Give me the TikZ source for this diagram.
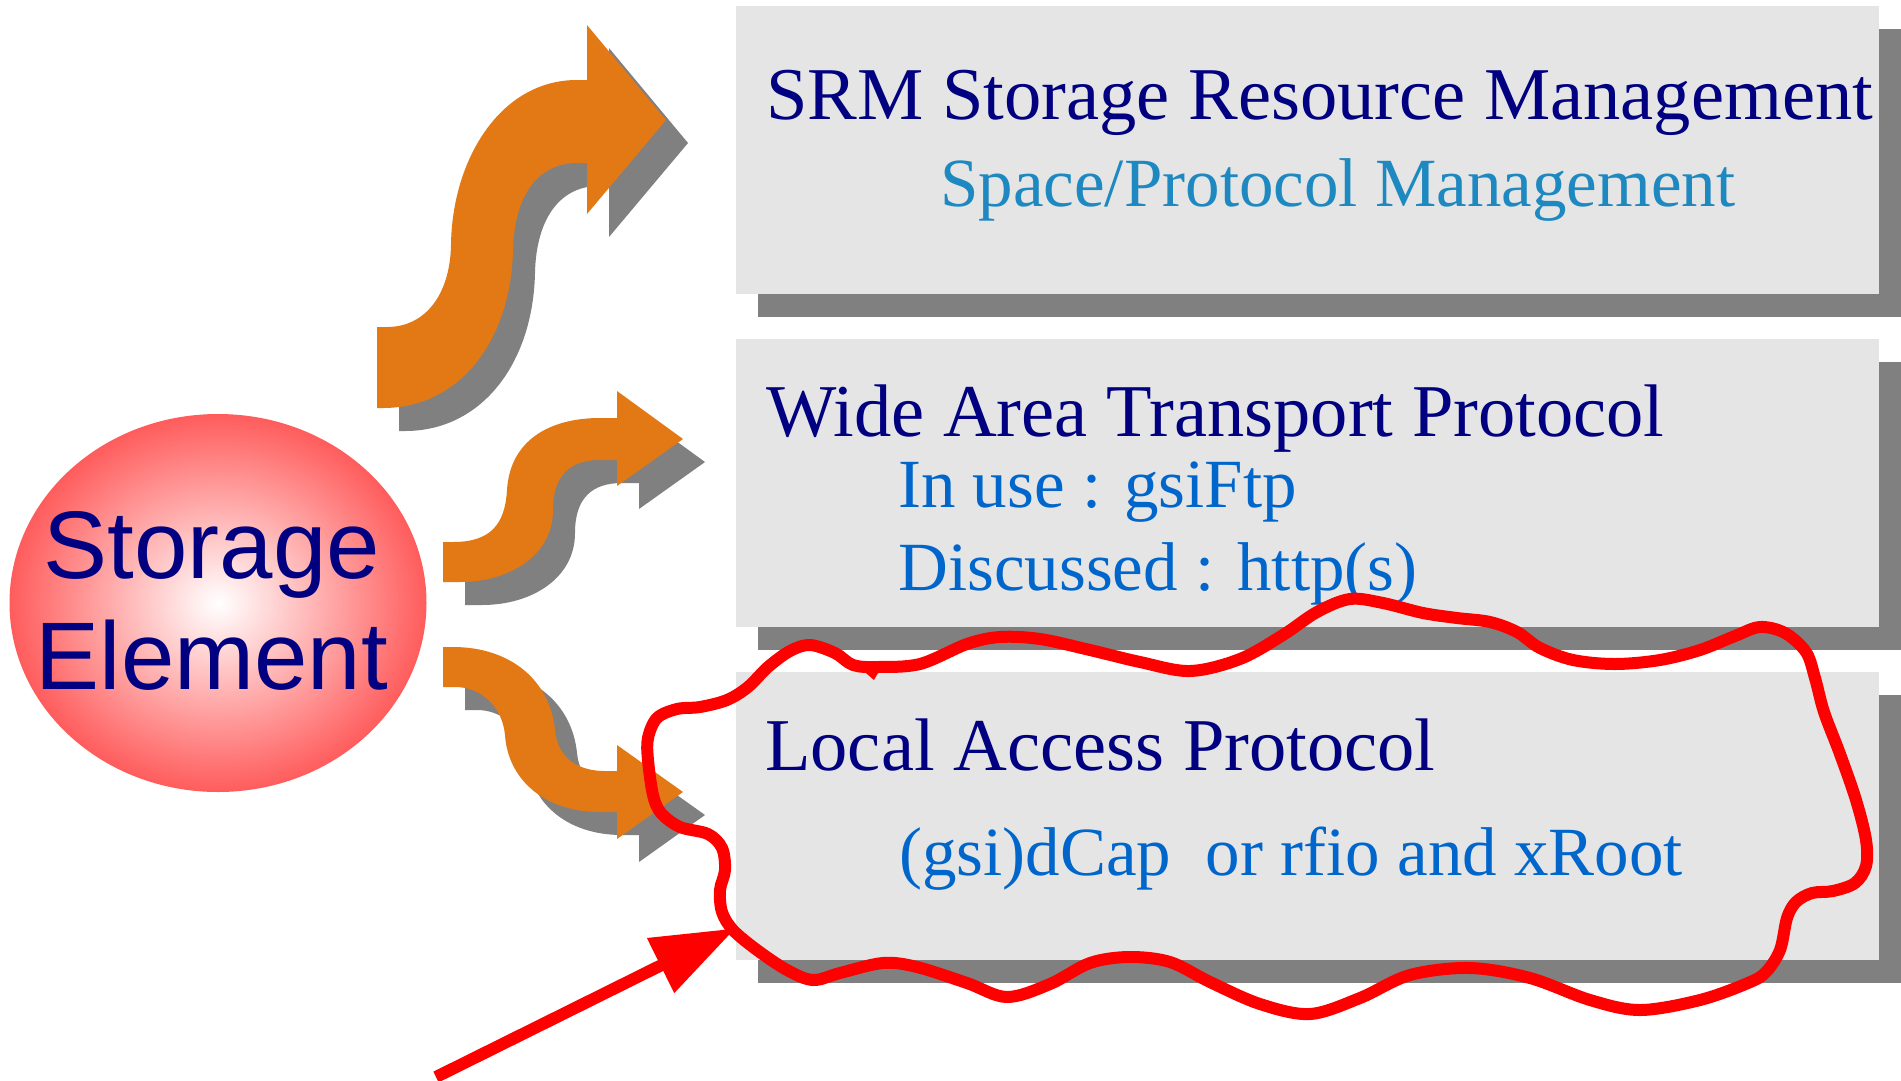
\documentclass[tikz,border=0pt]{standalone}
\usepackage{fontspec}
\setmainfont{Liberation Serif}
\newfontfamily\elementfont{Liberation Sans}
\usetikzlibrary{shapes.geometric,shadows,arrows.meta}

\definecolor{boxgray}{RGB}{229,229,229}
\definecolor{shadowgray}{RGB}{128,128,128}
\definecolor{navytext}{RGB}{0,0,128}
\definecolor{subblue}{RGB}{0,102,204}
\definecolor{tealblue}{RGB}{30,136,192}
\definecolor{arroworange}{RGB}{227,121,21}
\definecolor{sered}{RGB}{255,92,92}
\definecolor{penred}{RGB}{255,0,0}

% pink ball: white centre fading to red at the rim (rim sits at 25bp)
\pgfdeclareradialshading{seball}{\pgfpoint{0bp}{0bp}}{color(0bp)=(white); color(25bp)=(sered); color(50bp)=(sered)}

% outlines of the three bent arrows
\newcommand\sarrowTop{(377,327) -- (387,327) .. controls (425,327) and (450,295) .. (451,245) .. controls (452,160) and (500,80) .. (577,80) -- (587,80) -- (587,25) -- (666,120) -- (587,214) -- (587,163) -- (577,163) .. controls (535,163) and (514,200) .. (513,250) .. controls (511,340) and (460,408) .. (383,408) -- (377,408) -- cycle}
\newcommand\sarrowMid{(443,542) -- (453,542) .. controls (490,542) and (505,525) .. (507,490) .. controls (510,440) and (550,418) .. (600,418) -- (617,418) -- (617,391) -- (683,439) -- (617,486) -- (617,460) -- (600,460) .. controls (570,460) and (553,475) .. (553,510) .. controls (553,555) and (510,582) .. (460,582) -- (443,582) -- cycle}
\newcommand\sarrowLow{(443,647) -- (453,647) .. controls (510,647) and (550,680) .. (555,730) .. controls (558,760) and (580,771) .. (605,771) -- (617,771) -- (617,745) -- (683,792) -- (617,839) -- (617,812) -- (600,812) .. controls (545,812) and (508,780) .. (505,735) .. controls (502,705) and (480,687) .. (455,687) -- (443,687) -- cycle}

\begin{document}
\begin{tikzpicture}[x=1pt, y=-1pt,
  panel/.style={fill=boxgray, draw=none, minimum width=1143pt, minimum height=288pt, inner sep=0pt,
    drop shadow={shadow xshift=22pt, shadow yshift=-23pt, fill=shadowgray, opacity=1}},
  title/.style={anchor=base west, inner sep=0pt, text=navytext, font=\fontsize{74.5pt}{80pt}\selectfont},
  detail/.style={anchor=base west, inner sep=0pt, text=subblue, font=\fontsize{69pt}{76pt}\selectfont},
  ball/.style={ellipse, draw=none, minimum width=417pt, minimum height=378pt, inner sep=0pt, shade, shading=seball},
  balltext/.style={align=center, inner sep=0pt, text=navytext, font=\elementfont\fontsize{96pt}{111pt}\selectfont},
  arrowshade/.style={fill=shadowgray},
  arrowbody/.style={fill=arroworange},
  penloop/.style={draw=penred, line width=12pt, line join=round},
  penarrow/.style={draw=penred, line width=12pt, -{Triangle[length=84pt,width=58pt]}}
]
\fill[white] (0,0) rectangle (1901,1080);
\useasboundingbox (0,0) rectangle (1901,1080);

% the three layers
\node[panel] (srm) at (1307.5,150) {};
\node[panel] (wat) at (1307.5,483) {};
\node[panel] (lap) at (1307.5,816) {};

\node[title] (srmT) at (766,119) {SRM Storage Resource Management};
\node[detail, text=tealblue] (srmD) at (940,206) {Space/Protocol Management};
\node[title] (watT) at (766,436) {Wide Area Transport Protocol};
\node[detail] (watA) at (898,507) {In use : gsiFtp};
\node[detail] (watB) at (898,590) {Discussed : http(s)};
\node[title] (lapT) at (765,770) {Local Access Protocol};
\node[detail] (lapD) at (899,875) {(gsi)dCap~ or rfio and xRoot};

% storage element ball
\node[ball] (se) at (218,603) {};
\node[balltext] (seLabel) at (212,601) {Storage\\Element};

% bent arrows with their shadows
\begin{scope}[shift={(22,23)}]
  \fill[arrowshade] \sarrowTop;
  \fill[arrowshade] \sarrowMid;
  \fill[arrowshade] \sarrowLow;
\end{scope}
\fill[arrowbody] \sarrowTop;
\fill[arrowbody] \sarrowMid;
\fill[arrowbody] \sarrowLow;

% hand-drawn red loop round the local access layer
\draw[penloop] plot[smooth cycle, tension=0.55] coordinates {
  (877,667) (920,664) (967,644) (1000,637) (1040,639) (1090,650) (1140,662) (1190,671)
  (1240,659) (1283,635) (1317,612) (1350,599) (1383,603) (1423,613) (1457,618) (1490,622)
  (1517,632) (1540,648) (1573,660) (1615,664) (1660,660) (1700,650) (1735,636) (1760,627)
  (1785,633) (1806,652) (1815,678) (1824,712) (1840,754) (1856,800) (1866,840) (1866,866)
  (1855,883) (1833,891) (1812,893) (1796,902) (1787,918) (1780,950) (1766,972) (1748,983)
  (1700,1000) (1640,1010) (1590,1000) (1530,978) (1470,968) (1410,975) (1360,998) (1310,1014)
  (1260,1004) (1210,982) (1170,962) (1129,957) (1090,963) (1050,984) (1007,997)
  (967,983) (917,967) (883,963) (840,973) (813,980) (787,970) (757,950) (733,930)
  (722,912) (720,890) (725,870) (722,848) (708,834) (680,827) (661,813) (653,795)
  (648,760) (648,738) (657,718) (677,709) (700,707) (727,700) (748,687) (768,667)
  (790,651) (810,645) (835,653) (853,665)};
% small spur where the pen stroke closes
\fill[penred] (860,668) -- (882,666) -- (874,680) -- cycle;

% red pointer arrow
\coordinate (penTail) at (436,1077);
\draw[penarrow] (penTail) -- ([yshift=32pt]lap.south west);
\end{tikzpicture}
\end{document}
